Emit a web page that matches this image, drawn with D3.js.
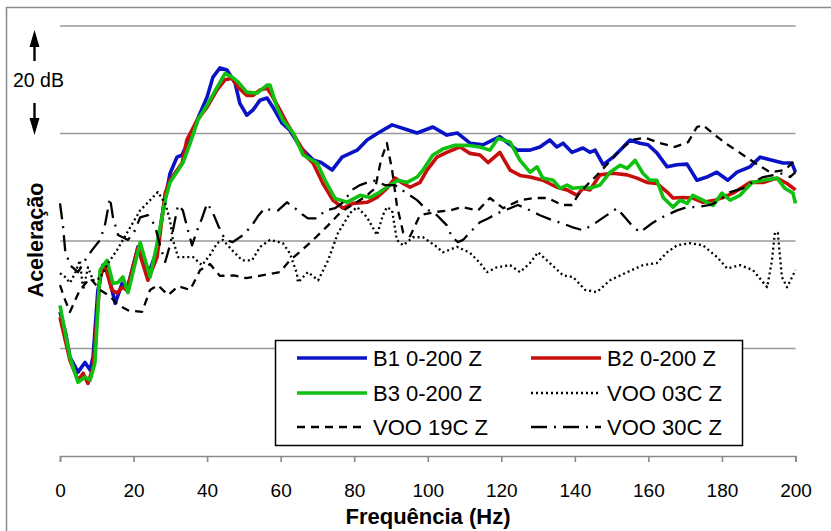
<!DOCTYPE html>
<html>
<head>
<meta charset="utf-8">
<script src="https://cdn.jsdelivr.net/npm/d3@7"></script>
<style>
  body { margin: 0; background: #fff; }
  svg text { font-family: "Liberation Sans", Arial, sans-serif; fill: #000; }
</style>
</head>
<body>
<svg id="chart" width="831" height="531"></svg>
<script>
// Frequency axis ticks (Hz) and horizontal grid levels (dB, 20 dB apart)
const xTicks = [0, 20, 40, 60, 80, 100, 120, 140, 160, 180, 200];
const gridLevels = [20, 40, 60, 80];

const seriesNames = ["B1 0-200 Z", "B2 0-200 Z", "B3 0-200 Z", "VOO 03C Z", "VOO 19C Z", "VOO 30C Z"];

// [frequency Hz, level dB]
const b1 = [[0,26.8],[1.5,23],[2.7,18.4],[4.9,15.6],[6.8,17.4],[8.2,16],[9,18.5],[10.3,30.8],[11.7,35.5],[13,34.2],[15,28.4],[16.9,32.1],[18.2,30.8],[21.2,38.9],[23.9,33.6],[26.4,38.3],[28,45.7],[29.9,52.5],[31.8,55.6],[33.2,56],[35.4,59.3],[38.1,63.8],[40,66.8],[41.6,70.5],[43.5,72.2],[45.4,71.8],[47.6,69.4],[48.9,65.6],[50.8,63.4],[52.5,64.4],[54.4,66.2],[56.3,66.6],[57.9,64.9],[60.4,61.9],[62.5,60.6],[65.3,57.5],[68.8,55.1],[71,54.6],[74,53.2],[76.7,55.6],[80.8,56.9],[83.5,58.8],[86.5,60.1],[90.3,61.6],[94.4,60.7],[97.1,60.1],[101.4,61.2],[105.2,59.7],[108,60.1],[111.5,58.2],[115,57.9],[119.6,59.4],[124.3,56.9],[127.8,56.9],[130.5,57.5],[133.2,58.8],[135.1,57.5],[136.8,58.2],[139.2,56.5],[142.2,57.3],[144.1,56.5],[145.5,56.9],[147.7,54.2],[150.4,55.6],[152.3,56.9],[155,58.8],[157.7,58.2],[159.9,57.9],[162.3,56.4],[165.1,53.8],[167.8,54.2],[170.5,54.3],[173.2,51.3],[175.9,51.9],[178.6,52.8],[181.6,51.3],[184.1,52.8],[187.6,53.8],[190.4,55.6],[193.1,55.1],[196.6,54.5],[199,54.5],[200,52.8]];

const b2 = [[0,25.8],[2.7,17.8],[4.9,14.1],[6.3,15.4],[7.6,13.5],[9,16.5],[10.9,33.3],[12.2,35.5],[14.1,30.9],[15.5,30.3],[16.9,31.4],[18.2,30.9],[21.2,38.7],[23.9,32.7],[26.4,37],[28.6,48.9],[29.9,51.3],[33.2,54.5],[34.5,58.8],[37.3,62.5],[40,64.9],[42.7,68.1],[44.9,70],[46.8,70.3],[48.4,68.6],[50.8,67.1],[52.5,67.1],[54.4,68.1],[56.3,68.4],[57.6,67.1],[59.8,64.4],[61.7,61.9],[64.4,58.8],[67.2,55.6],[68.8,54.5],[71.5,50.7],[74.2,47.6],[77,46.1],[79.7,47],[83.5,47.2],[86.2,48.1],[88.9,49.8],[91.1,51.7],[93.3,50.7],[95.2,50],[97.9,50.9],[99.8,53.2],[102.5,55.6],[105.2,56.5],[108.8,57.5],[111.5,56.3],[114.2,56],[116.4,54.6],[119.6,56.5],[122.4,53.2],[125.1,52.2],[127.8,51.9],[131.3,51.3],[135.1,50],[137.9,49.5],[140.6,48.5],[142.2,49.8],[144.1,49.5],[146.8,52.3],[150.4,52.6],[154.2,52.3],[156.9,51.7],[159.6,50.9],[162.3,50.7],[165.1,49.1],[166.7,48],[169.4,48.1],[172.1,48],[174.8,47.2],[178.1,47.6],[180.3,48.1],[183,48.9],[187.6,50.9],[191.2,50.9],[195,51.7],[197.7,50.7],[200,49.5]];

const b3 = [[0,28],[2.7,18.4],[4.9,13.7],[6.8,14.7],[8.2,14.1],[9.5,17.3],[10.9,34.6],[12.8,36.4],[14.4,32.1],[15.8,32.3],[17.1,33.3],[18.5,30.4],[21.8,39.7],[24.5,33.3],[26.6,40.2],[28.6,47.6],[29.9,50.9],[33.4,54.5],[35.4,58.2],[37.5,62.5],[40,65.3],[42.7,68.6],[44.9,71.2],[46.8,70.5],[48.4,69.6],[50.8,67.7],[53.6,67.5],[56.3,69],[57.1,69],[59,64.9],[60.6,62.5],[63.4,60.1],[66.1,56],[69.9,54.5],[72.1,51.3],[74.8,47.9],[78,47.2],[81.6,48.5],[84.3,48.1],[87,49.1],[89.7,50.4],[91.9,51.3],[94.4,50.9],[97.1,51.9],[98.7,53.2],[101.4,56],[104.1,57.1],[107.4,57.8],[110.7,57.8],[114.2,57.5],[116.9,56.9],[119.1,59.1],[122.4,58.4],[125.1,55],[127.8,52.8],[129.7,53.8],[131.3,51.7],[134.1,51.3],[136,49.8],[137.9,50.4],[139.5,49.8],[142.2,50],[144.1,49.8],[146.8,50.4],[149.6,52.8],[152.3,54.1],[154.2,53.5],[156.4,55],[158.5,52.6],[160.4,51.3],[162.3,51.3],[164,48.1],[166.7,46.3],[168.6,47.6],[170.5,47],[172.1,48.5],[174.8,47.6],[177.6,46.6],[180,48.9],[182.2,47.6],[184.9,48.5],[188.2,50.9],[191.2,51.3],[195,51.7],[197.1,49.8],[199.3,48.9],[200,47]];

const voo03 = [[0,34],[1.4,33.3],[2.7,32.2],[4.1,34],[5.4,36.4],[6.3,30.9],[7.6,35.1],[9,32.7],[10.9,33.1],[13.1,35.9],[15.5,38.3],[18.2,41.5],[21.8,45.7],[24.5,47.6],[26.6,49.1],[28.6,47],[29.9,43.9],[30.7,40.2],[32.1,37],[34,37],[36.2,37],[38.6,35.5],[40.8,37.4],[42.7,39.6],[44.3,40.2],[46.8,38.3],[49.5,36.4],[52.2,36.4],[54.4,38.9],[57.1,40.2],[60.6,39.6],[62.5,37.7],[64.4,34],[64.7,32.3],[67.4,34.2],[70.2,32.7],[72.9,36.4],[75.6,41.5],[78.9,45.2],[80.8,46.3],[83.5,44.4],[86.2,41.1],[87.8,44.8],[88.9,46.3],[90.3,45.7],[91.6,40.2],[93.3,39.2],[96,40.7],[98.7,40.7],[102.5,38.9],[104.1,37.9],[108,38.9],[111.5,37.8],[114.2,35.9],[116.1,34.2],[118.8,35.1],[122.4,35.5],[125.1,34.2],[127.8,35.9],[130,37.9],[133.2,35.9],[136.8,33.6],[139.5,33.3],[142.8,30.9],[146,30.5],[149.6,32.7],[154.2,34.2],[158.5,35.5],[162.3,35.9],[165.1,37.9],[167.8,39.2],[171.3,39.6],[174.8,39.2],[178.7,37],[181.4,34.9],[184.9,35.5],[188.4,34.6],[192.3,31.4],[193.6,36.4],[194.4,41.6],[195.2,41.5],[196.3,33.3],[197.7,31.4],[200,34.6]];

const voo19 = [[0,31.8],[1.4,29],[2.7,26.8],[5.4,30.9],[8.2,33.1],[10.9,30.9],[13.6,29.7],[15.8,28.1],[18.5,27.1],[22.3,26.8],[24.5,30.9],[26.6,31.8],[29.4,29.9],[32.1,31.6],[35.4,30.9],[38.1,34.6],[40.8,35.7],[43.5,33.5],[47.3,33.6],[50.6,33.1],[54.9,33.6],[59.8,34.2],[62.5,36.4],[65.8,38.3],[69.6,40.7],[72.9,42.9],[76.1,45.2],[79.4,46.7],[82.9,48.2],[85.7,49.8],[87.3,55.1],[88.9,58.2],[90.3,53.2],[91.6,46.7],[93.3,41.6],[95.2,40.9],[97.9,44.8],[102,45.4],[106.1,45.7],[109.3,46.3],[113.7,45.7],[116.9,48],[120.5,46.1],[125.1,47.6],[129.2,48],[132.7,48],[136.5,46.7],[139.2,46.7],[141.4,49.1],[146.8,52.8],[152.3,56.9],[155.5,58.8],[159.1,59.2],[163.2,58.2],[167.2,57.5],[170.8,58.4],[173.2,61.2],[174.8,61.6],[178.1,59.7],[181.6,57.9],[184.9,56.4],[189,54.5],[193.1,52.8],[197.1,53.2],[200,55.1]];

const voo30 = [[0,47],[0.8,42.9],[1.4,38.3],[2.7,35.5],[4.9,34.2],[6.8,36.4],[8.7,38.3],[10.9,40.2],[12.2,42.9],[13.6,48],[14.4,44.4],[15.8,41.1],[18.5,40.2],[20.4,42],[21.8,44.4],[23.9,44.8],[25.8,42.9],[27.2,39.2],[28.6,36.1],[29.9,39.2],[32.1,46.7],[33.4,45.7],[34.8,42],[35.9,39.2],[37.3,42],[38.6,44.2],[40,47],[41.3,45.7],[43,42.9],[44.9,40.2],[47,39.8],[49.8,41.1],[52.2,42.9],[53.8,44.6],[55.7,46.1],[57.6,45.7],[59.3,45.7],[61.7,47.2],[63.9,46.1],[65.8,45],[67.4,44.2],[69.9,44.2],[72.1,45.7],[74.8,46.1],[77,47.2],[79.4,49.5],[81.6,50.4],[85.1,51.3],[88.4,50.4],[91.1,50.4],[93.8,49.1],[97.1,47.6],[99.3,46.1],[102.5,44.8],[105.2,42.9],[106.6,40.7],[108.2,39.8],[109.6,40.2],[111.5,41.6],[114.2,43.5],[116.4,44.2],[119.1,45.2],[122.4,46.1],[124.5,46.7],[127.8,45.7],[130.5,44.8],[133.8,43.9],[136.5,43.3],[139.2,42.6],[142.2,42],[145.5,43.3],[147.4,44.2],[151.5,46.1],[153.6,44.4],[155.5,42.9],[157.7,41.6],[161,43.3],[163.7,44.4],[167.8,45.7],[170.5,46.3],[173.2,46.3],[176.8,46.7],[179.5,47.6],[182.2,49.1],[185.7,49.8],[188.2,50.9],[191.2,51.9],[196.6,52.6],[198.5,51.9],[200,52.8]];

const seriesData = [b1, b2, b3, voo03, voo19, voo30];
const seriesColors = ["#0a12c6", "#c80d0d", "#10c010", "#000", "#000", "#000"];
const seriesWidths = [3.6, 3.6, 3.6, 2.3, 2.3, 2.3];
const seriesDash = [null, null, null, "2 3", "8 6", "16 7 2 7"];

const svg = d3.select("#chart");

// outer chart frame
svg.append("rect")
  .attr("x", 6.5).attr("y", 7.5).attr("width", 840).attr("height", 540)
  .attr("fill", "none").attr("stroke", "#8a8a8a").attr("stroke-width", 1.5);

const x = d3.scaleLinear().domain([0, 200]).range([60, 795.5]);
const y = d3.scaleLinear().domain([0, 80]).range([456, 26]);

// horizontal grid
svg.append("g").selectAll("line").data(gridLevels).join("line")
  .attr("x1", x(0)).attr("x2", x(200))
  .attr("y1", d => y(d)).attr("y2", d => y(d))
  .attr("stroke", "#999").attr("stroke-width", 1.6);

// frequency axis
const xAxis = svg.append("g")
  .attr("transform", `translate(0,${y(0)})`)
  .call(d3.axisBottom(x).tickValues(xTicks).tickSize(6).tickSizeOuter(6).tickPadding(22));
xAxis.select(".domain").attr("stroke", "#8a8a8a").attr("stroke-width", 1.6);
xAxis.selectAll(".tick line").attr("stroke", "#8a8a8a").attr("stroke-width", 1.6);
xAxis.selectAll(".tick text")
  .attr("font-family", '"Liberation Sans", Arial, sans-serif')
  .attr("font-size", 19).attr("fill", "#000");

// series lines
const line = d3.line().x(d => x(d[0])).y(d => y(d[1]));
seriesData.forEach((data, i) => {
  svg.append("path")
    .datum(data)
    .attr("d", line)
    .attr("fill", "none")
    .attr("stroke", seriesColors[i])
    .attr("stroke-width", seriesWidths[i])
    .attr("stroke-linejoin", "round")
    .attr("stroke-dasharray", seriesDash[i]);
});

// axis titles
svg.append("text")
  .attr("x", 428).attr("y", 524)
  .attr("text-anchor", "middle")
  .attr("font-weight", "bold").attr("font-size", 22)
  .text("Frequência (Hz)");

svg.append("text")
  .attr("transform", "translate(43,240) rotate(-90)")
  .attr("text-anchor", "middle")
  .attr("font-weight", "bold").attr("font-size", 21.5)
  .text("Aceleração");

// 20 dB scale marker with arrows
svg.append("text")
  .attr("x", 13).attr("y", 87)
  .attr("font-size", 19.5)
  .text("20 dB");
const arrowX = 34.5;
svg.append("line").attr("x1", arrowX).attr("x2", arrowX).attr("y1", 61).attr("y2", 44)
  .attr("stroke", "#000").attr("stroke-width", 2.4);
svg.append("path").attr("d", `M${arrowX},30 L${arrowX - 5},47 L${arrowX + 5},47 Z`).attr("fill", "#000");
svg.append("line").attr("x1", arrowX).attr("x2", arrowX).attr("y1", 103).attr("y2", 120)
  .attr("stroke", "#000").attr("stroke-width", 2.4);
svg.append("path").attr("d", `M${arrowX},135 L${arrowX - 5},118 L${arrowX + 5},118 Z`).attr("fill", "#000");

// legend
const legend = svg.append("g");
legend.append("rect")
  .attr("x", 275.5).attr("y", 340.5).attr("width", 467).attr("height", 105)
  .attr("fill", "#fff").attr("stroke", "#000").attr("stroke-width", 1.5);
const colX = [297, 531];
const rowY = [358, 393, 427];
seriesNames.forEach((name, i) => {
  const cx = colX[i % 2], cy = rowY[Math.floor(i / 2)];
  legend.append("line")
    .attr("x1", cx).attr("x2", cx + 70).attr("y1", cy).attr("y2", cy)
    .attr("stroke", seriesColors[i])
    .attr("stroke-width", seriesWidths[i])
    .attr("stroke-dasharray", seriesDash[i]);
  legend.append("text")
    .attr("x", cx + 76).attr("y", cy + 8)
    .attr("font-size", 22)
    .text(name);
});
</script>
</body>
</html>
